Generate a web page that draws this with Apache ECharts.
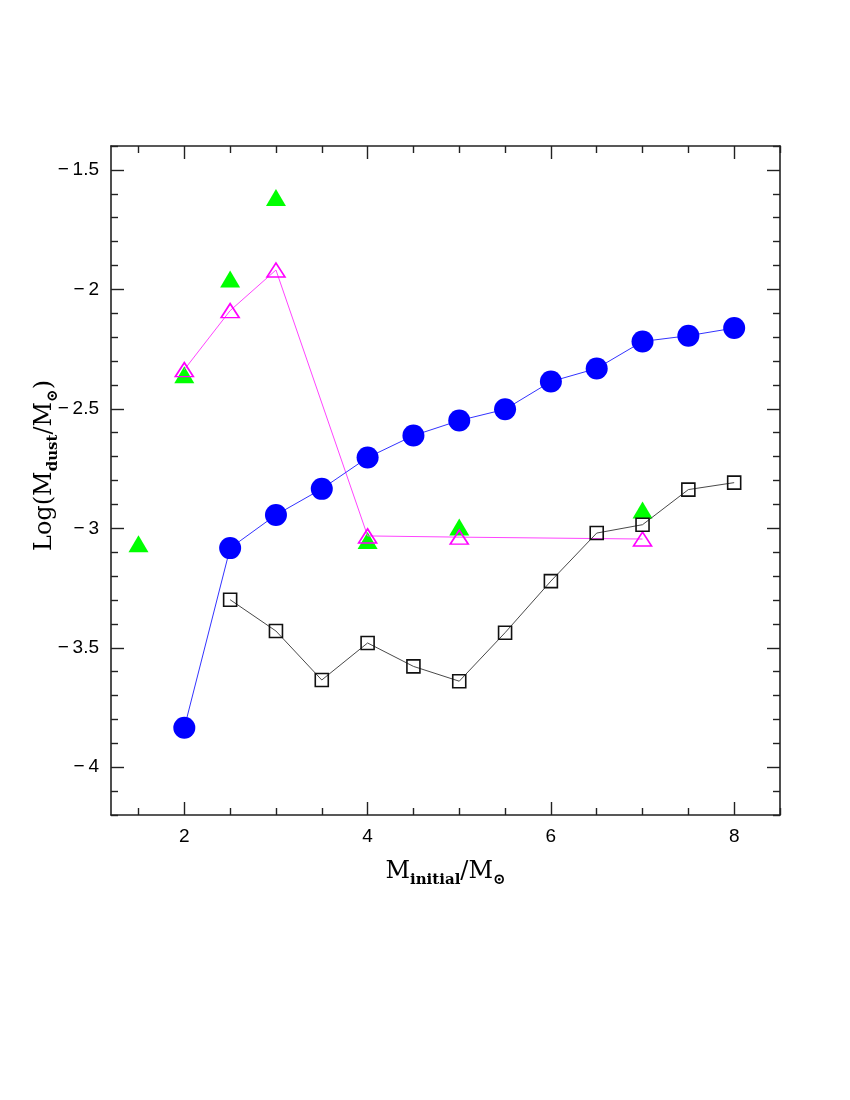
<!DOCTYPE html>
<html>
<head>
<meta charset="utf-8">
<script src="https://cdn.jsdelivr.net/npm/echarts@6/dist/echarts.min.js"></script>
<style>
  html, body { margin: 0; padding: 0; background: #fff; }
  #chart { width: 850px; height: 1100px; }
</style>
</head>
<body>
<div id="chart"></div>
<script>
// Dust mass vs initial stellar mass
const massCircles = [2, 2.5, 3, 3.5, 4, 4.5, 5, 5.5, 6, 6.5, 7, 7.5, 8]
const dustCircles = [-3.835, -3.083, -2.944, -2.835, -2.704, -2.612, -2.549, -2.502, -2.386, -2.331, -2.218, -2.194, -2.162]

const massSquares = [2.5, 3, 3.5, 4, 4.5, 5, 5.5, 6, 6.5, 7, 7.5, 8]
const dustSquares = [-3.299, -3.430, -3.635, -3.480, -3.578, -3.640, -3.437, -3.221, -3.020, -2.985, -2.838, -2.809]

const massOpenTri = [2, 2.5, 3, 4, 5, 7]
const dustOpenTri = [-2.336, -2.089, -1.919, -3.032, -3.037, -3.045]

const massFilledTri = [1.5, 2, 2.5, 3, 4, 5, 7]
const dustFilledTri = [-3.065, -2.357, -1.957, -1.616, -3.051, -2.995, -2.923]

const xMajor = [2, 4, 6, 8]
const xMinor = [1.5, 2.5, 3, 3.5, 4.5, 5, 5.5, 6.5, 7, 7.5, 8.5]
const yMajor = [-4, -3.5, -3, -2.5, -2, -1.5]
const yMinor = [-4.2, -4.1, -3.9, -3.8, -3.7, -3.6, -3.4, -3.3, -3.2, -3.1, -2.9, -2.8, -2.7, -2.6,
  -2.4, -2.3, -2.2, -2.1, -1.9, -1.8, -1.7, -1.6, -1.4]

const pairs = (xs, ys) => xs.map((x, i) => [x, ys[i]])

const axisColor = '#222'
const labelFont = { fontFamily: 'Liberation Sans', fontSize: 19, color: '#000' }
const serif = 'DejaVu Serif'
const titleRich = {
  n: { fontFamily: serif, fontSize: 24, lineHeight: 32, color: '#000' },
  s: { fontFamily: serif, fontSize: 15, fontWeight: 'bold', lineHeight: 15, verticalAlign: 'bottom', color: '#000' }
}

const makeAxis = (dim, position, values, len, opts = {}) => ({
  type: 'value',
  position,
  min: dim === 'x' ? 1.2 : -4.2,
  max: dim === 'x' ? 8.5 : -1.4,
  splitLine: { show: false },
  axisLine: { show: !!opts.line, onZero: false, lineStyle: { color: axisColor, width: 1.6 } },
  axisTick: { show: true, inside: true, length: len, customValues: values, lineStyle: { color: axisColor, width: 1.4 } },
  axisLabel: opts.labels
    ? Object.assign({ show: true, customValues: values, margin: 12, formatter: v => (v < 0 ? '\u2212\u2009' : '') + Math.abs(v) }, labelFont)
    : { show: false },
  ...(opts.extra || {})
})

const chart = echarts.init(document.getElementById('chart'))

chart.setOption({
  animation: false,
  backgroundColor: '#fff',
  grid: { left: 111, right: 70, top: 146, bottom: 285 },
  xAxis: [
    makeAxis('x', 'bottom', xMajor, 13, {
      line: true,
      labels: true,
      extra: {
        name: '{n|M}{s|initial}{n|/M}{s|\u2299}',
        nameLocation: 'middle',
        nameGap: 41,
        nameTextStyle: { rich: titleRich }
      }
    }),
    makeAxis('x', 'bottom', xMinor, 7),
    makeAxis('x', 'top', xMajor, 13, { line: true }),
    makeAxis('x', 'top', xMinor, 7)
  ],
  yAxis: [
    makeAxis('y', 'left', yMajor, 13, {
      line: true,
      labels: true,
      extra: {
        name: '{n|Log(M}{s|dust}{n|/M}{s|\u2299}{n|)}',
        nameLocation: 'middle',
        nameGap: 50,
        nameMoveOverlap: false,
        nameRotate: 90,
        nameTextStyle: { rich: titleRich, padding: [0, 0, 0, 30] }
      }
    }),
    makeAxis('y', 'left', yMinor, 7),
    makeAxis('y', 'right', yMajor, 13, { line: true }),
    makeAxis('y', 'right', yMinor, 7)
  ],
  series: [
    {
      name: 'filled triangles',
      type: 'scatter',
      data: pairs(massFilledTri, dustFilledTri),
      symbol: 'triangle',
      symbolSize: [20, 17],
      itemStyle: { color: '#00ff00', opacity: 1 },
      z: 2
    },
    {
      name: 'open triangles',
      type: 'line',
      data: pairs(massOpenTri, dustOpenTri),
      symbol: 'triangle',
      symbolSize: [18, 14],
      showAllSymbol: true,
      lineStyle: { color: '#ff44ff', width: 1 },
      itemStyle: { color: 'rgba(0,0,0,0)', borderColor: '#ff00ff', borderWidth: 1.6 },
      z: 3
    },
    {
      name: 'circles',
      type: 'line',
      data: pairs(massCircles, dustCircles),
      symbol: 'circle',
      symbolSize: 22,
      showAllSymbol: true,
      lineStyle: { color: '#3333ff', width: 1 },
      itemStyle: { color: '#0000ff' },
      z: 4
    },
    {
      name: 'squares',
      type: 'line',
      data: pairs(massSquares, dustSquares),
      symbol: 'rect',
      symbolSize: 13,
      showAllSymbol: true,
      lineStyle: { color: '#333', width: 0.9 },
      itemStyle: { color: 'rgba(0,0,0,0)', borderColor: '#111', borderWidth: 1.6 },
      z: 5
    }
  ]
})
</script>
</body>
</html>
